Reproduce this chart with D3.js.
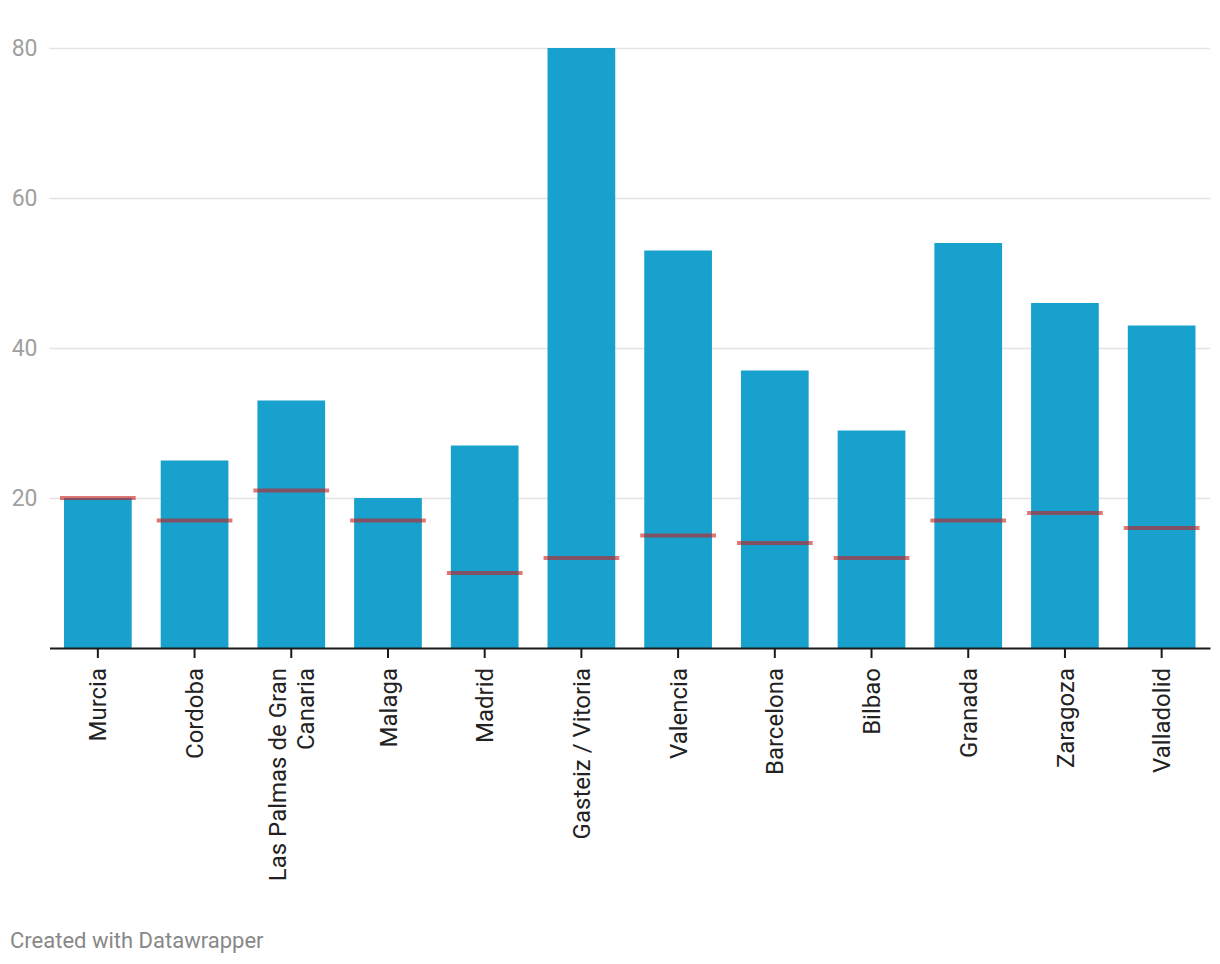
<!DOCTYPE html>
<html>
<head>
<meta charset="utf-8">
<script src="https://cdn.jsdelivr.net/npm/d3@7"></script>
<style>
  body { margin: 0; background: #fff; font-family: Roboto, "Noto Sans", sans-serif; }
</style>
</head>
<body>
<div id="wrapper"></div>
<script>
// data
const cities = ["Murcia", "Cordoba", "Las Palmas de Gran Canaria", "Malaga", "Madrid",
  "Gasteiz / Vitoria", "Valencia", "Barcelona", "Bilbao", "Granada", "Zaragoza", "Valladolid"];
const barValues = [20, 25, 33, 20, 27, 80, 53, 37, 29, 54, 46, 43];
const markerValues = [20, 17, 21, 17, 10, 12, 15, 14, 12, 17, 18, 16];
const yTicks = [20, 40, 60, 80];

function drawChart() {
    const dimensions = {
        width: 1220,
        height: 964,
        margin: { top: 48, right: 10, bottom: 316, left: 49.5 },
    };
    dimensions.boundedWidth = dimensions.width - dimensions.margin.left - dimensions.margin.right;
    dimensions.boundedHeight = dimensions.height - dimensions.margin.top - dimensions.margin.bottom;

    const wrapper = d3.select("#wrapper")
        .append("svg")
        .attr("width", dimensions.width)
        .attr("height", dimensions.height);

    const bounds = wrapper.append("g")
        .attr("transform", `translate(${dimensions.margin.left}, ${dimensions.margin.top})`);

    // scales
    const xScale = d3.scaleBand()
        .domain(cities)
        .range([0, dimensions.boundedWidth])
        .paddingInner(0.3)
        .paddingOuter(0.15);

    const yScale = d3.scaleLinear()
        .domain([0, 80])
        .range([dimensions.boundedHeight, 0]);

    // gridlines + y labels
    const yAxis = bounds.append("g")
        .call(d3.axisLeft(yScale)
            .tickValues(yTicks)
            .tickSize(-dimensions.boundedWidth)
            .tickPadding(12));
    yAxis.select(".domain").remove();
    yAxis.selectAll(".tick line")
        .attr("stroke", "#e3e3e3")
        .attr("stroke-width", 1.5);
    yAxis.selectAll(".tick text")
        .attr("fill", "#a0a0a0")
        .style("font-family", "Roboto")
        .style("font-size", "23px");

    // bars
    bounds.selectAll("rect.bar")
        .data(cities)
        .enter()
        .append("rect")
        .attr("class", "bar")
        .attr("x", d => xScale(d))
        .attr("width", xScale.bandwidth())
        .attr("y", (d, i) => yScale(barValues[i]))
        .attr("height", (d, i) => yScale(0) - yScale(barValues[i]))
        .attr("fill", "#18a1cd");

    // red markers
    bounds.selectAll("line.marker")
        .data(cities)
        .enter()
        .append("line")
        .attr("class", "marker")
        .attr("x1", d => xScale(d) - 4)
        .attr("x2", d => xScale(d) + xScale.bandwidth() + 4)
        .attr("y1", (d, i) => yScale(markerValues[i]))
        .attr("y2", (d, i) => yScale(markerValues[i]))
        .attr("stroke", "#c71e1d")
        .attr("stroke-opacity", 0.6)
        .attr("stroke-width", 4);

    // x axis
    const xAxis = bounds.append("g")
        .attr("transform", `translate(0, ${dimensions.boundedHeight})`)
        .call(d3.axisBottom(xScale).tickSizeInner(10).tickSizeOuter(0));
    xAxis.select(".domain")
        .attr("stroke", "#1a1a1a")
        .attr("stroke-width", 2);
    xAxis.selectAll(".tick line")
        .attr("stroke", "#1a1a1a")
        .attr("stroke-width", 2);
    xAxis.selectAll(".tick text").remove();

    // rotated, wrapped labels
    const labelSize = 24;
    const lineHeight = 28;
    xAxis.selectAll(".tick").each(function(d) {
        const g = d3.select(this);
        const words = d.split(" ");
        const lines = [];
        let current = "";
        const probe = g.append("text")
            .style("font-family", "Roboto")
            .style("font-size", labelSize + "px");
        words.forEach(w => {
            const attempt = current ? current + " " + w : w;
            probe.text(attempt);
            if (probe.node().getComputedTextLength() > 240 && current) {
                lines.push(current);
                current = w;
            } else {
                current = attempt;
            }
        });
        lines.push(current);
        probe.remove();

        const label = g.append("text")
            .attr("transform", "translate(0, 20) rotate(-90)")
            .attr("text-anchor", "end")
            .attr("fill", "#222")
            .style("font-family", "Roboto")
            .style("font-size", labelSize + "px");
        lines.forEach((line, i) => {
            label.append("tspan")
                .attr("x", 0)
                .attr("y", (i - (lines.length - 1) / 2) * lineHeight)
                .attr("dy", "0.36em")
                .text(line);
        });
    });

    // footer
    wrapper.append("text")
        .attr("x", 10)
        .attr("y", 948)
        .attr("fill", "#888")
        .style("font-family", "Roboto")
        .style("font-size", "22px")
        .text("Created with Datawrapper");
}

drawChart();
</script>
</body>
</html>
